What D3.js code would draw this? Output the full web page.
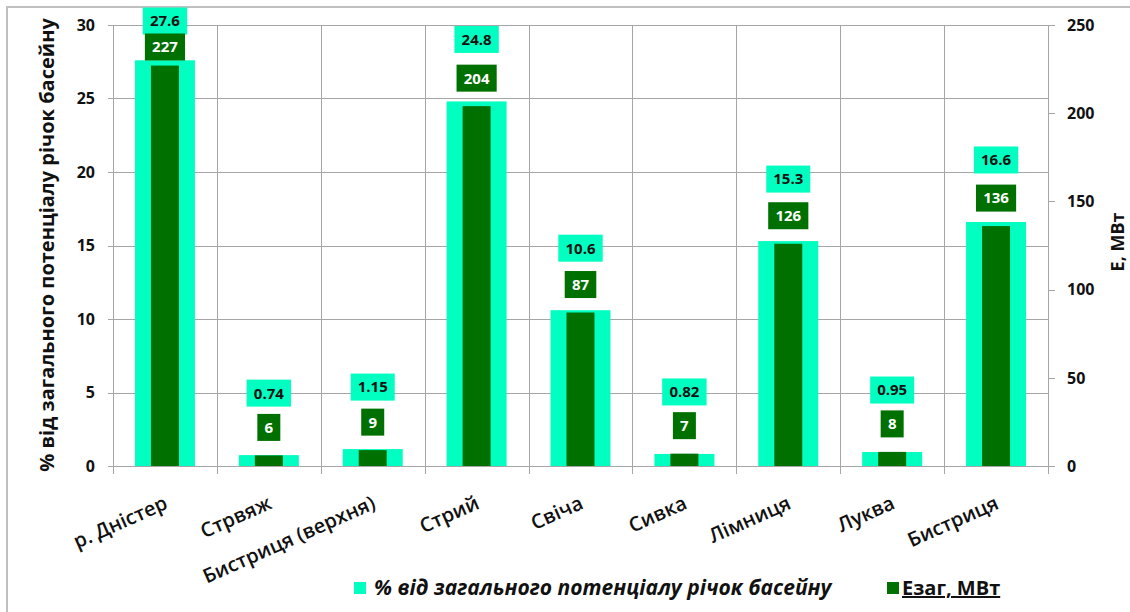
<!DOCTYPE html>
<html>
<head>
<meta charset="utf-8">
<script src="https://cdn.jsdelivr.net/npm/d3@7"></script>
<style>
  html, body { margin: 0; padding: 0; background: #fff; }
  svg { display: block; font-family: "Open Sans", "Noto Sans", sans-serif; }
</style>
</head>
<body>
<svg id="chart" width="1130" height="612"></svg>
<script>
const categories = ["р. Дністер", "Стрвяж", "Бистриця (верхня)", "Стрий", "Свіча", "Сивка", "Лімниця", "Луква", "Бистриця"];
const percentValues = [27.6, 0.74, 1.15, 24.8, 10.6, 0.82, 15.3, 0.95, 16.6];
const powerValues = [227, 6, 9, 204, 87, 7, 126, 8, 136];
const leftTicks = [0, 5, 10, 15, 20, 25, 30];
const rightTicks = [0, 50, 100, 150, 200, 250];
const seriesNames = ["% від загального потенціалу річок басейну", "Езаг, МВт"];

(function () {
const lightColor = "#00FFC0";
const darkColor = "#007000";
const gridColor = "#a6a6a6";

const svg = d3.select("#chart");
const pLeft = 113, pRight = 1048, pTop = 25, pBottom = 466;

const x = d3.scaleBand().domain(categories).range([pLeft, pRight]).paddingInner(0).paddingOuter(0);
const yL = d3.scaleLinear().domain([0, 30]).range([pBottom, pTop]);
const yR = d3.scaleLinear().domain([0, 250]).range([pBottom, pTop]);

// frame
svg.append("path").attr("d", `M7,612 V7 H1130`).attr("fill", "none")
  .attr("stroke", "#bfbfbf").attr("stroke-width", 2);

// horizontal gridlines
svg.append("g").selectAll("line").data(leftTicks).join("line")
  .attr("x1", pLeft - 5).attr("x2", pRight)
  .attr("y1", d => Math.round(yL(d)) + 0.5).attr("y2", d => Math.round(yL(d)) + 0.5)
  .attr("stroke", gridColor).attr("stroke-width", 1);

// vertical gridlines at category boundaries
const bounds = categories.map(c => x(c)).concat([pRight]);
svg.append("g").selectAll("line").data(bounds).join("line")
  .attr("x1", d => Math.round(d) + 0.5).attr("x2", d => Math.round(d) + 0.5)
  .attr("y1", pTop).attr("y2", pBottom + 8)
  .attr("stroke", gridColor).attr("stroke-width", 1);

// right axis ticks
svg.append("g").selectAll("line").data(rightTicks).join("line")
  .attr("x1", pRight).attr("x2", pRight + 7)
  .attr("y1", d => Math.round(yR(d)) + 0.5).attr("y2", d => Math.round(yR(d)) + 0.5)
  .attr("stroke", gridColor).attr("stroke-width", 1);

// bars
const lw = 60, dw = 28;
svg.append("g").selectAll("rect").data(categories).join("rect")
  .attr("x", (c) => x(c) + x.bandwidth() / 2 - lw / 2)
  .attr("width", lw)
  .attr("y", (c, i) => yL(percentValues[i]))
  .attr("height", (c, i) => pBottom - yL(percentValues[i]))
  .attr("fill", lightColor);
svg.append("g").selectAll("rect").data(categories).join("rect")
  .attr("x", (c) => x(c) + x.bandwidth() / 2 - dw / 2)
  .attr("width", dw)
  .attr("y", (c, i) => yR(powerValues[i]))
  .attr("height", (c, i) => pBottom - yR(powerValues[i]))
  .attr("fill", darkColor);

// data labels
const labelG = svg.append("g");
categories.forEach((c, i) => {
  const cx = x(c) + x.bandwidth() / 2;
  const ly = Math.max(yL(percentValues[i]) - 62, 21);
  const dy = Math.max(yR(powerValues[i]) - 28, ly + 26);
  [[String(percentValues[i]), ly, lightColor, "#111"], [String(powerValues[i]), dy, darkColor, "#fff"]].forEach(([txt, cy, bg, fg]) => {
    const g = labelG.append("g");
    const r = g.append("rect").attr("fill", bg);
    const t = g.append("text").attr("x", cx).attr("y", cy).attr("dy", "0.36em")
      .attr("text-anchor", "middle").attr("font-size", 15).attr("font-weight", 700)
      .attr("fill", fg).text(txt);
    const bb = t.node().getBBox();
    r.attr("x", cx - bb.width / 2 - 7).attr("width", bb.width + 14)
     .attr("y", cy - 13.5).attr("height", 27);
  });
});

// left tick labels
svg.append("g").selectAll("text").data(leftTicks).join("text")
  .attr("x", 95).attr("y", d => yL(d)).attr("dy", "0.36em")
  .attr("text-anchor", "end").attr("font-size", 16).attr("font-weight", 700)
  .attr("fill", "#111").text(d => d);

// right tick labels
svg.append("g").selectAll("text").data(rightTicks).join("text")
  .attr("x", 1067).attr("y", d => yR(d)).attr("dy", "0.36em")
  .attr("text-anchor", "start").attr("font-size", 16).attr("font-weight", 700)
  .attr("fill", "#111").text(d => d);

// category labels
svg.append("g").selectAll("text").data(categories).join("text")
  .attr("transform", c => `translate(${x(c) + x.bandwidth() / 2 + 4},${508}) rotate(-24)`)
  .attr("text-anchor", "end").attr("font-size", 20).attr("font-weight", 600)
  .attr("fill", "#111").text(c => c);

// axis titles
svg.append("text").attr("transform", `translate(54,245) rotate(-90)`)
  .attr("text-anchor", "middle").attr("font-size", 20).attr("font-weight", 700)
  .attr("fill", "#111").text(seriesNames[0]);
svg.append("text").attr("transform", `translate(1124,242) rotate(-90)`)
  .attr("text-anchor", "middle").attr("font-size", 18).attr("font-weight", 700)
  .attr("fill", "#111").text("Е, МВт");

// legend
const leg = svg.append("g");
leg.append("rect").attr("x", 354).attr("y", 582).attr("width", 12).attr("height", 12).attr("fill", lightColor);
leg.append("text").attr("x", 374).attr("y", 595).attr("font-size", 21).attr("font-weight", 700)
  .attr("font-style", "italic").attr("fill", "#111").text(seriesNames[0]);
leg.append("rect").attr("x", 887).attr("y", 582).attr("width", 12).attr("height", 12).attr("fill", darkColor);
leg.append("text").attr("x", 902).attr("y", 595).attr("font-size", 20).attr("font-weight", 700)
  .attr("text-decoration", "underline").attr("fill", "#111").text(seriesNames[1]);
})();
</script>
</body>
</html>
